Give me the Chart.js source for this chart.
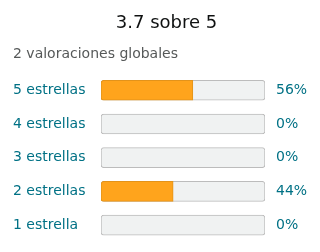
<!DOCTYPE html>
<html>
<head>
<meta charset="utf-8">
<script src="https://cdn.jsdelivr.net/npm/chart.js@4.4.1/dist/chart.umd.min.js"></script>
<style>
  html, body { margin: 0; padding: 0; background: #fff; }
  #wrap { width: 320px; height: 252px; }
</style>
</head>
<body>
<div id="wrap"><canvas id="myChart"></canvas></div>
<script>
// valores
const labels = ["5 estrellas", "4 estrellas", "3 estrellas", "2 estrellas", "1 estrella"];
const porcentajes = [56, 0, 0, 44, 0];
const etiquetasPct = ["56%", "0%", "0%", "44%", "0%"];
const fondo = [100, 100, 100, 100, 100];

const teal = "#007185";
Chart.defaults.font.family = "'DejaVu Sans', sans-serif";

const datasets = [
  {
    data: porcentajes,
    backgroundColor: "#ffa41c",
    borderColor: "#e3931a",
    borderWidth: 1,
    borderSkipped: false,
    borderRadius: {topLeft: 3, bottomLeft: 3, topRight: 0, bottomRight: 0},
    barThickness: 20,
    grouped: false,
    order: 1
  },
  {
    data: fondo,
    backgroundColor: "#f0f2f2",
    borderColor: "#bcbcbc",
    borderWidth: 1,
    borderSkipped: false,
    borderRadius: 3,
    barThickness: 20,
    grouped: false,
    order: 2
  }];

// ancho fijo y sin relleno extra arriba/abajo
function fijarEje(ancho) {
  return (scale) => {
    scale.width = ancho;
    scale.paddingTop = 0;
    scale.paddingBottom = 0;
  };
}

new Chart(document.getElementById("myChart"), {
  type: "bar",
  data: {labels, datasets},
  options: {
    indexAxis: "y",
    responsive: true,
    maintainAspectRatio: false,
    animation: false,
    layout: {padding: {left: 13, right: 0, top: 0, bottom: 10}},
    plugins: {
      legend: {display: false},
      tooltip: {enabled: false},
      title: {
        display: true,
        text: "3.7 sobre 5",
        color: "#0f1111",
        font: {size: 18, weight: "normal"},
        padding: {top: 13, bottom: 11}
      },
      subtitle: {
        display: true,
        text: "2 valoraciones globales",
        align: "start",
        color: "#565959",
        font: {size: 14},
        padding: {top: 0, bottom: 11}
      }
    },
    scales: {
      x: {display: false, min: 0, max: 100, stacked: false},
      y: {
        position: "left",
        grid: {display: false, drawTicks: false},
        border: {display: false},
        ticks: {color: teal, font: {size: 14}, crossAlign: "far", padding: 0},
        afterFit: fijarEje(88)
      },
      y2: {
        type: "category",
        position: "right",
        labels: etiquetasPct,
        grid: {display: false, drawTicks: false},
        border: {display: false},
        ticks: {color: teal, font: {size: 14}, padding: 11},
        afterFit: fijarEje(55)
      }
    }
  }
});
</script>
</body>
</html>
